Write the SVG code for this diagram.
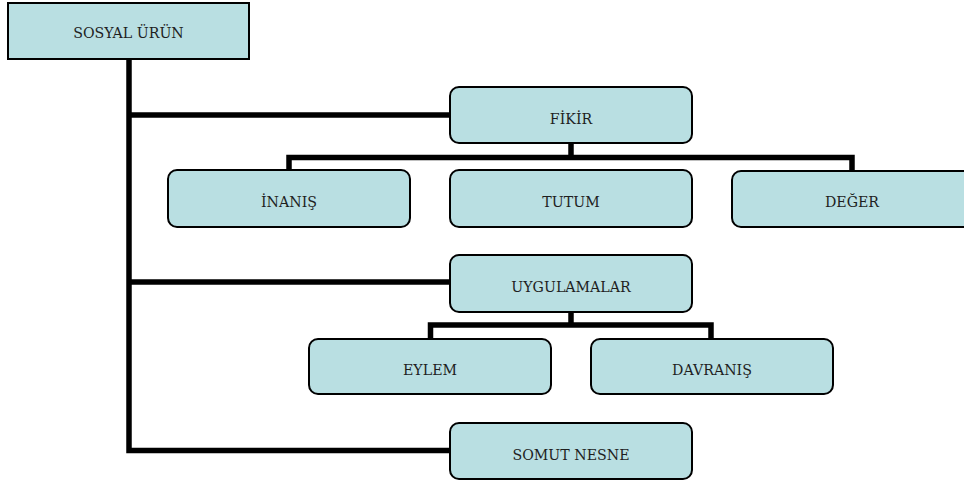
<svg xmlns="http://www.w3.org/2000/svg" width="964" height="483" viewBox="0 0 964 483">
  <style>
    .box { fill: #b9dfe2; stroke: #000; stroke-width: 2; }
    .lbl { font-family: "DejaVu Serif", serif; font-size: 14.2px; fill: #1e1e1e; text-anchor: middle; }
    .wire { fill: none; stroke: #000; stroke-width: 5.5; stroke-linejoin: miter; stroke-linecap: butt; }
  </style>
  <rect width="964" height="483" fill="#fff"/>

  <!-- tree connectors: trunk from the root, branches to each child row -->
  <g id="connectors">
    <path class="wire" d="M129,59 V450.5 H450"/>
    <path class="wire" d="M129,115 H450"/>
    <path class="wire" d="M129,282 H450"/>
    <path class="wire" d="M571,143 V157.5"/>
    <path class="wire" d="M289,170 V157.5 H852 V171"/>
    <path class="wire" d="M571,312 V325"/>
    <path class="wire" d="M430.5,339 V325 H711 V339"/>
  </g>

  <g id="sosyal-urun">
    <rect class="box" x="8" y="3" width="241" height="56"/>
    <text class="lbl" x="128.5" y="38">SOSYAL ÜRÜN</text>
  </g>
  <g id="fikir">
    <rect class="box" x="450" y="87" width="242" height="56" rx="9"/>
    <text class="lbl" x="571" y="124">FİKİR</text>
  </g>
  <g id="inanis">
    <rect class="box" x="168" y="170" width="242" height="57" rx="9"/>
    <text class="lbl" x="289" y="207">İNANIŞ</text>
  </g>
  <g id="tutum">
    <rect class="box" x="450" y="170" width="242" height="57" rx="9"/>
    <text class="lbl" x="571" y="207">TUTUM</text>
  </g>
  <g id="deger">
    <rect class="box" x="732" y="171" width="242" height="56" rx="9"/>
    <text class="lbl" x="852" y="207">DEĞER</text>
  </g>
  <g id="uygulamalar">
    <rect class="box" x="450" y="255" width="242" height="57" rx="9"/>
    <text class="lbl" x="571" y="292">UYGULAMALAR</text>
  </g>
  <g id="eylem">
    <rect class="box" x="309" y="339" width="242" height="55" rx="9"/>
    <text class="lbl" x="430" y="375">EYLEM</text>
  </g>
  <g id="davranis">
    <rect class="box" x="591" y="339" width="242" height="55" rx="9"/>
    <text class="lbl" x="712" y="375">DAVRANIŞ</text>
  </g>
  <g id="somut-nesne">
    <rect class="box" x="450" y="423" width="242" height="56" rx="9"/>
    <text class="lbl" x="571" y="460">SOMUT NESNE</text>
  </g>
</svg>
